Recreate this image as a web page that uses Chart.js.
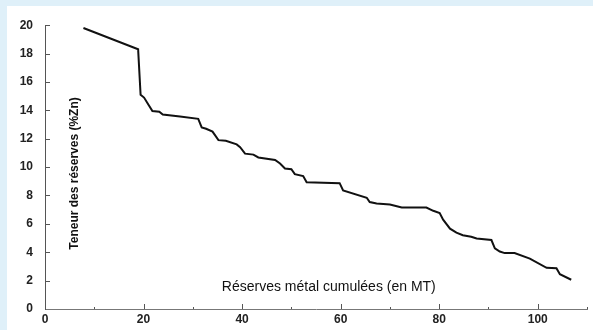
<!DOCTYPE html>
<html>
<head>
<meta charset="utf-8">
<script src="https://cdn.jsdelivr.net/npm/chart.js@4.4.1/dist/chart.umd.min.js"></script>
<style>
  html, body { margin: 0; padding: 0; background: #dff0f9; width: 593px; height: 330px; overflow: hidden; }
  #cadre { position: absolute; left: 7px; top: 6px; width: 586px; height: 324px; background: #fff; }
  canvas { display: block; }
</style>
</head>
<body>
<div id="cadre"><canvas id="courbe" width="586" height="324"></canvas></div>
<script>
// réserves métal cumulées (MT)
const reservesCumulees = [7.8, 18.9, 19.4, 20.1, 21, 21.8, 23.2, 23.9, 27.4, 31.1, 31.8, 32.7, 34, 35.2, 36.7, 38.9, 39.6, 40.6, 42.3, 43.3, 46.7, 47.7, 48.7, 50, 50.7, 52.4, 53.1, 59.8, 60.5, 65.3, 65.9, 67.3, 70, 72.4, 76.5, 77.4, 78.8, 80.1, 80.8, 82.2, 83.5, 84.8, 86.5, 87.6, 90.6, 91.3, 92.3, 93.3, 95.3, 98.4, 101.8, 103.8, 104.5, 106.8];
// teneur (%Zn)
const teneurs = [19.8, 18.3, 15.1, 14.9, 14.4, 13.95, 13.9, 13.7, 13.56, 13.4, 12.8, 12.7, 12.5, 11.9, 11.85, 11.6, 11.4, 10.95, 10.88, 10.68, 10.5, 10.25, 9.9, 9.85, 9.5, 9.37, 8.93, 8.87, 8.36, 7.84, 7.54, 7.44, 7.37, 7.15, 7.15, 7.15, 6.92, 6.76, 6.3, 5.66, 5.38, 5.2, 5.09, 4.97, 4.86, 4.28, 4.05, 3.94, 3.94, 3.55, 2.9, 2.87, 2.45, 2.06];

const titreX = 'Réserves métal cumulées (en MT)';
const titreY = 'Teneur des réserves (%Zn)';

const points = reservesCumulees.map((x, i) => ({ x: x, y: teneurs[i] }));

// petits traits vers l'intérieur + titres dans la zone du graphique
const decor = {
  id: 'decor',
  afterDraw(chart) {
    const ctx = chart.ctx;
    const sx = chart.scales.x;
    const sy = chart.scales.y;
    const bas = chart.chartArea.bottom;
    const gauche = chart.chartArea.left;
    ctx.save();
    ctx.strokeStyle = '#555';
    ctx.lineWidth = 1;
    for (let v = 10; v <= 110; v += 10) {
      const px = Math.round(sx.getPixelForValue(v)) + 0.5;
      const long = (v % 20 === 0) ? 5 : 2;
      ctx.beginPath();
      ctx.moveTo(px, bas);
      ctx.lineTo(px, bas - long);
      ctx.stroke();
    }
    for (let v = 2; v <= 20; v += 2) {
      const py = Math.round(sy.getPixelForValue(v)) + 0.5;
      ctx.beginPath();
      ctx.moveTo(gauche, py);
      ctx.lineTo(gauche + 5, py);
      ctx.stroke();
    }
    ctx.fillStyle = '#111';
    ctx.textAlign = 'center';
    ctx.textBaseline = 'middle';
    ctx.font = '14px "Liberation Sans", Arial, sans-serif';
    ctx.fillText(titreX, sx.getPixelForValue(57.6), sy.getPixelForValue(1.55));
    ctx.translate(sx.getPixelForValue(6.1), sy.getPixelForValue(9.55));
    ctx.rotate(-Math.PI / 2);
    ctx.font = 'bold 12px "Liberation Sans", Arial, sans-serif';
    ctx.fillText(titreY, 0, 0);
    ctx.restore();
  }
};

new Chart(document.getElementById('courbe'), {
  type: 'line',
  data: {
    datasets: [{
      data: points,
      borderColor: '#111',
      borderWidth: 2,
      pointRadius: 0,
      tension: 0,
      fill: false
    }]
  },
  options: {
    responsive: false,
    animation: false,
    devicePixelRatio: 1,
    layout: { padding: { top: 12, right: 6, left: 0, bottom: 0 } },
    plugins: {
      legend: { display: false },
      tooltip: { enabled: false }
    },
    scales: {
      x: {
        type: 'linear',
        min: 0,
        max: 110,
        afterFit: (s) => { s.height = 21; },
        grid: { display: false, drawTicks: false },
        border: { display: true, color: '#777', width: 1 },
        ticks: {
          stepSize: 10,
          padding: 3,
          color: '#222',
          font: { family: '"Liberation Sans", Arial, sans-serif', size: 12, weight: 'bold' },
          callback: (v) => (v % 20 === 0 && v <= 100) ? v : ''
        }
      },
      y: {
        min: 0,
        max: 20,
        afterFit: (s) => { s.width = 38; },
        grid: { display: false, drawTicks: false },
        border: { display: true, color: '#555', width: 1 },
        ticks: {
          stepSize: 2,
          padding: 12,
          color: '#222',
          font: { family: '"Liberation Sans", Arial, sans-serif', size: 12, weight: 'bold' }
        }
      }
    }
  },
  plugins: [decor]
});
</script>
</body>
</html>
